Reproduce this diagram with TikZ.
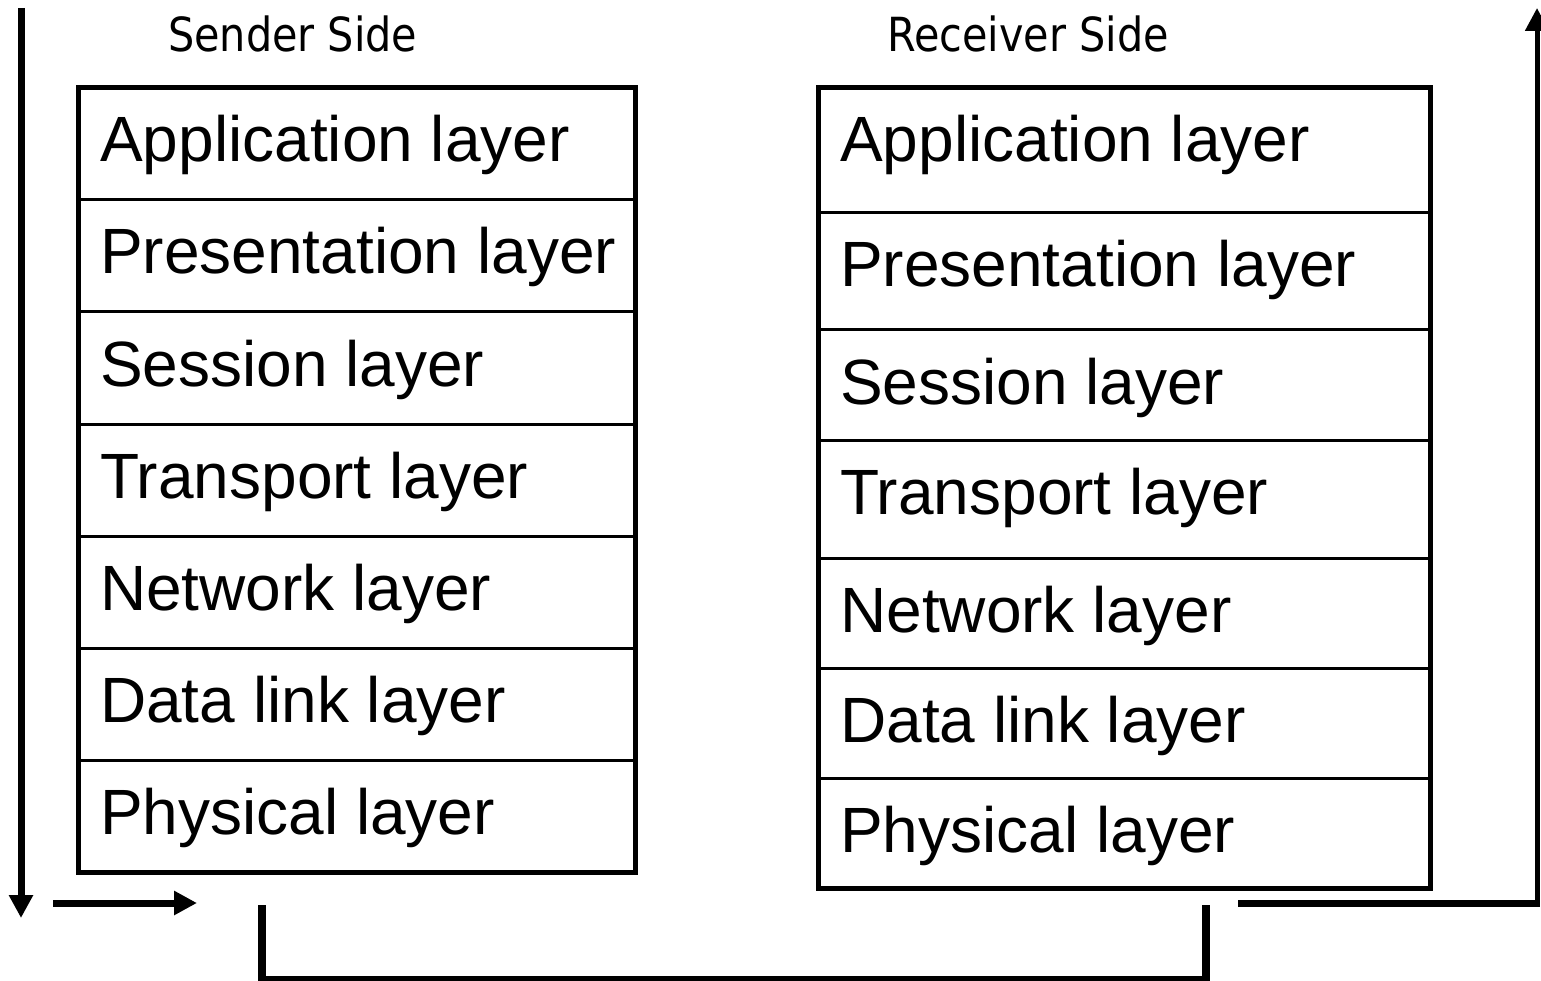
\documentclass[tikz,border=0pt]{standalone}
\usepackage{fontspec}
\setmainfont{Liberation Sans}
\newfontfamily\sidefont[FakeStretch=0.88]{DejaVu Sans}
\usetikzlibrary{arrows.meta}
\tikzset{
  cell/.style={draw, line width=3pt, rectangle, inner sep=0pt, outer sep=0pt, anchor=north west, minimum width=#1},
  frame/.style={draw, line width=5pt},
  lay/.style={anchor=base west, inner sep=0pt, font=\fontsize{64}{76}\selectfont},
  side/.style={anchor=base west, inner sep=0pt, font=\sidefont\fontsize{47}{56}\selectfont},
  arr/.style={line width=#1, -{Triangle[width=23pt,length=23pt]}},
  thickline/.style={line width=#1}
}
\begin{document}
\begin{tikzpicture}[x=1pt,y=-1pt]
\useasboundingbox (0,0) rectangle (1541,981);

% ---- Sender stack ----
\node[cell=557pt, minimum height=112pt] (s1) at (78,88) {};
\node[cell=557pt, minimum height=112pt] (s2) at (78,200) {};
\node[cell=557pt, minimum height=112pt] (s3) at (78,312) {};
\node[cell=557pt, minimum height=112pt] (s4) at (78,424) {};
\node[cell=557pt, minimum height=112pt] (s5) at (78,536) {};
\node[cell=557pt, minimum height=112pt] (s6) at (78,648) {};
\node[cell=557pt, minimum height=112pt] (s7) at (78,760) {};
\draw[frame] (s1.north west) rectangle (s7.south east);

\node[lay] (st1) at (100,162) {Application layer};
\node[lay] (st2) at (100,274) {Presentation layer};
\node[lay] (st3) at (100,386) {Session layer};
\node[lay] (st4) at (100,498) {Transport layer};
\node[lay] (st5) at (100,610) {Network layer};
\node[lay] (st6) at (100,722) {Data link layer};
\node[lay] (st7) at (100,834) {Physical layer};

% ---- Receiver stack ----
\node[cell=612pt, minimum height=125pt] (r1) at (818,88) {};
\node[cell=612pt, minimum height=117pt] (r2) at (818,213) {};
\node[cell=612pt, minimum height=110pt] (r3) at (818,330) {};
\node[cell=612pt, minimum height=118pt] (r4) at (818,440) {};
\node[cell=612pt, minimum height=110pt] (r5) at (818,558) {};
\node[cell=612pt, minimum height=110pt] (r6) at (818,668) {};
\node[cell=612pt, minimum height=110pt] (r7) at (818,778) {};
\draw[frame] (r1.north west) rectangle (r7.south east);

\node[lay] (rt1) at (840,162) {Application layer};
\node[lay] (rt2) at (840,287) {Presentation layer};
\node[lay] (rt3) at (840,404) {Session layer};
\node[lay] (rt4) at (840,514) {Transport layer};
\node[lay] (rt5) at (840,632) {Network layer};
\node[lay] (rt6) at (840,742) {Data link layer};
\node[lay] (rt7) at (840,852) {Physical layer};

% ---- Titles ----
\node[side] (sender) at (168,52) {Sender Side};
\node[side] (receiver) at (887,52) {Receiver Side};

% ---- Arrows ----
\coordinate (a1) at (21,8);
\coordinate (a2) at (21,918);
\draw[arr=7pt] (a1) -- (a2);

\coordinate (h1) at (53,903);
\coordinate (h2) at (197,903);
\draw[arr=7pt] (h1) -- (h2);

% bracket
\coordinate (b1) at (262,905);
\coordinate (b2) at (262,980.5);
\coordinate (b3) at (1206,905);
\coordinate (b4) at (1206,980.5);
\coordinate (b5) at (258,978);
\coordinate (b6) at (1210,978);
\draw[thickline=8pt] (b1) -- (b2);
\draw[thickline=8pt] (b3) -- (b4);
\draw[thickline=5pt] (b5) -- (b6);

% return path
\coordinate (e1) at (1238,903);
\coordinate (e2) at (1540,903);
\coordinate (e3) at (1537,906.5);
\coordinate (e4) at (1537,8);
\draw[thickline=7pt] (e1) -- (e2);
\draw[arr=5pt] (e3) -- (e4);
\end{tikzpicture}
\end{document}
